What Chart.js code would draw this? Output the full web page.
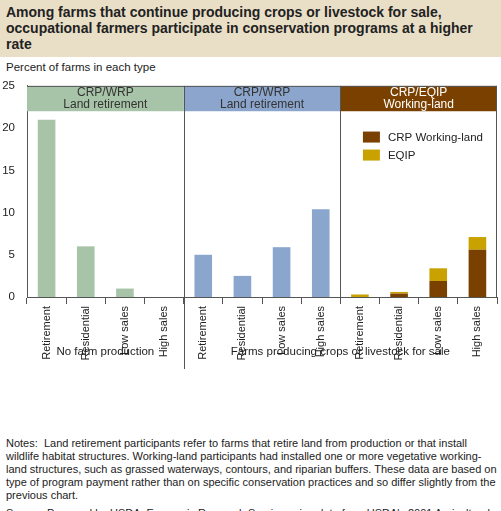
<!DOCTYPE html>
<html><head><meta charset="utf-8">
<script src="https://cdn.jsdelivr.net/npm/chart.js@4"></script>
<style>
body{margin:0;width:501px;height:511px;font-family:"Liberation Sans",Arial,sans-serif;background:#fff;position:relative;overflow:hidden}
#title{position:absolute;left:0;top:0;width:501px;height:57px;background:#e9dfc7;font-weight:bold;font-size:14px;line-height:16px;color:#222;padding:4px 6px;box-sizing:border-box}
#ylab{position:absolute;left:6px;top:61px;font-size:11.5px;color:#222}
#wrap{position:absolute;left:0;top:75px;width:501px;height:300px}
#notes{position:absolute;left:6px;top:437px;width:492px;font-size:11px;line-height:13px;color:#222}
</style></head><body>
<div id="title">Among farms that continue producing crops or livestock for sale, occupational farmers participate in conservation programs at a higher rate</div>
<div id="ylab">Percent of farms in each type</div>
<div id="wrap"><canvas id="c"></canvas></div>
<div id="notes">Notes:&nbsp; Land retirement participants refer to farms that retire land from production or that install wildlife habitat structures. Working-land participants had installed one or more vegetative working-land structures, such as grassed waterways, contours, and riparian buffers. These data are based on type of program payment rather than on specific conservation practices and so differ slightly from the previous chart.<div style="margin-top:5px">Source: Prepared by USDA, Economic Research Service using data from USDA's 2001 Agricultural Resource Management Survey, Cost and Returns Report.</div></div>
<script>
const categories = ["Retirement","Residential","Low sales","High sales","Retirement","Residential","Low sales","High sales","Retirement","Residential","Low sales","High sales"];
const noFarmRetirement = [21, 6, 1, 0, null, null, null, null, null, null, null, null];
const producingRetirement = [null, null, null, null, 5, 2.5, 5.9, 10.4, null, null, null, null];
const crpWorking = [null, null, null, null, null, null, null, null, 0, 0.4, 1.9, 5.6];
const eqip = [null, null, null, null, null, null, null, null, 0.3, 0.2, 1.5, 1.5];
const yTicks = [0, 5, 10, 15, 20, 25];
const panels = [
  {from: 0, to: 3, title: ["CRP/WRP", "Land retirement"], bg: "#a8c4a8", fg: "#333"},
  {from: 4, to: 7, title: ["CRP/WRP", "Land retirement"], bg: "#8ba5cc", fg: "#333"},
  {from: 8, to: 11, title: ["CRP/EQIP", "Working-land"], bg: "#7a4000", fg: "#fff"}
];
const groups = [
  {from: 0, to: 3, label: "No farm production"},
  {from: 4, to: 11, label: "Farms producing crops or livestock for sale"}
];
const cGreen = "#a8c4a8", cBlue = "#8aa6cc", cCrp = "#7a4000", cEqip = "#c9a200";

const deco = {
  id: "deco",
  beforeDatasetsDraw(chart) {
    const {ctx, chartArea: a, scales: {x, y}} = chart;
    const half = (x.getPixelForValue(1) - x.getPixelForValue(0)) / 2;
    const bandBottom = y.getPixelForValue(22);
    ctx.save();
    panels.forEach(p => {
      const l = x.getPixelForValue(p.from) - half, r = x.getPixelForValue(p.to) + half;
      ctx.fillStyle = p.bg;
      ctx.fillRect(l, a.top, r - l, bandBottom - a.top);
      ctx.fillStyle = p.fg;
      ctx.font = "12px 'Liberation Sans', Arial";
      ctx.textAlign = "center";
      ctx.fillText(p.title[0], (l + r) / 2, a.top + 10);
      ctx.fillText(p.title[1], (l + r) / 2, a.top + 22);
    });
    ctx.strokeStyle = "#555"; ctx.lineWidth = 1;
    [4, 8].forEach(i => {
      const px = Math.round(x.getPixelForValue(i) - half) + 0.5;
      ctx.beginPath(); ctx.moveTo(px, a.top); ctx.lineTo(px, i === 4 ? a.bottom + 72 : a.bottom); ctx.stroke();
    });
    ctx.beginPath(); ctx.moveTo(a.right - 0.5, a.top); ctx.lineTo(a.right - 0.5, a.bottom); ctx.stroke();
    ctx.beginPath(); ctx.moveTo(a.left, a.top + 0.5); ctx.lineTo(a.right, a.top + 0.5); ctx.stroke();
    ctx.fillStyle = "#222"; ctx.font = "11.5px 'Liberation Sans', Arial"; ctx.textAlign = "center";
    groups.forEach(g => {
      const l = x.getPixelForValue(g.from) - half, r = x.getPixelForValue(g.to) + half;
      ctx.fillText(g.label, (l + r) / 2, a.bottom + 58);
    });
    // legend
    const lx = x.getPixelForValue(8) + 3, ly = y.getPixelForValue(19);
    ctx.textAlign = "left"; ctx.font = "11.5px 'Liberation Sans', Arial";
    ctx.fillStyle = cCrp; ctx.fillRect(lx, ly - 5, 17, 11);
    ctx.fillStyle = cEqip; ctx.fillRect(lx, ly + 13, 17, 11);
    ctx.fillStyle = "#222";
    ctx.fillText("CRP Working-land", lx + 25, ly + 4);
    ctx.fillText("EQIP", lx + 25, ly + 22);
    ctx.restore();
  }
};

new Chart(document.getElementById("c"), {
  type: "bar",
  data: {
    labels: categories,
    datasets: [
      {data: noFarmRetirement, backgroundColor: cGreen},
      {data: producingRetirement, backgroundColor: cBlue},
      {data: crpWorking, backgroundColor: cCrp},
      {data: eqip, backgroundColor: cEqip}
    ]
  },
  options: {
    responsive: true, maintainAspectRatio: false, animation: false,
    layout: {padding: {right: 4, top: 6}},
    plugins: {legend: {display: false}, tooltip: {enabled: false}},
    datasets: {bar: {barPercentage: 0.45, categoryPercentage: 1, skipNull: true}},
    scales: {
      x: {
        stacked: true,
        grid: {offset: true, drawOnChartArea: false, tickLength: 7, color: "#555"},
        border: {color: "#555"},
        ticks: {maxRotation: 90, minRotation: 90, color: "#222", font: {size: 11, family: "'Liberation Sans', Arial"}, padding: 2},
        afterFit(s) { s.height = 78; }
      },
      y: {
        stacked: true, min: 0, max: 25,
        afterBuildTicks(s) { s.ticks = yTicks.map(v => ({value: v})); },
        grid: {display: false},
        border: {color: "#555"},
        ticks: {color: "#222", font: {size: 11.5, family: "'Liberation Sans', Arial"}, padding: 4},
        afterFit(s) { s.width = 27; }
      }
    }
  },
  plugins: [deco]
});
</script>
</body></html>
